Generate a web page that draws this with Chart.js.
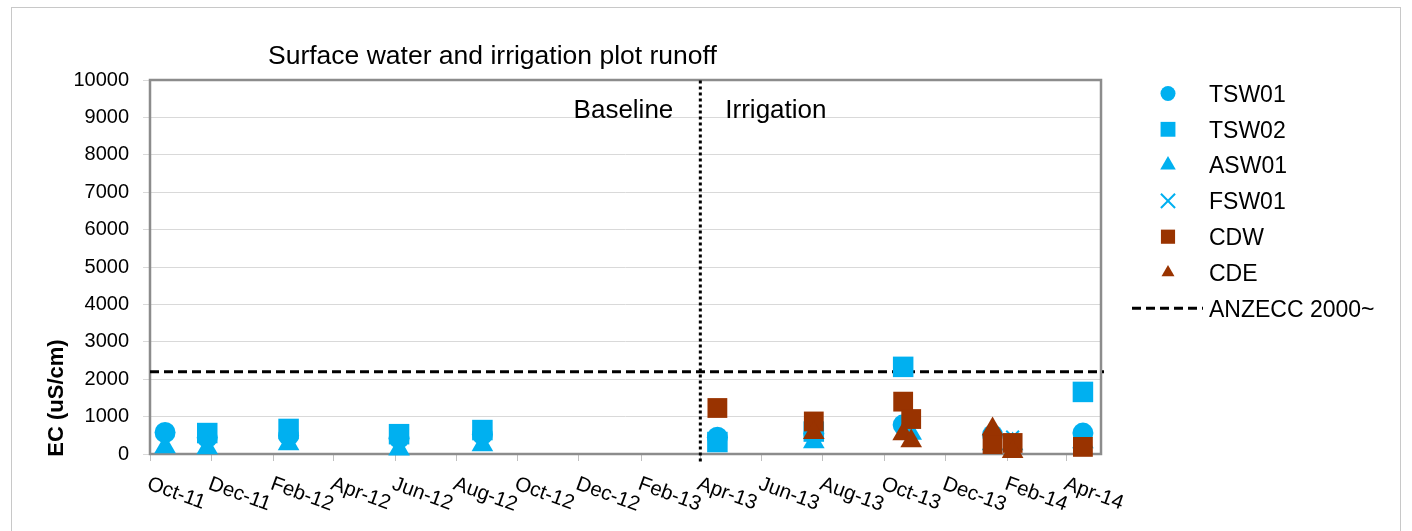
<!DOCTYPE html>
<html>
<head>
<meta charset="utf-8">
<title>Surface water and irrigation plot runoff</title>
<script src="https://cdn.jsdelivr.net/npm/chart.js@4.4.1/dist/chart.umd.min.js"></script>
<style>
  html, body { margin: 0; padding: 0; background: #fff; }
  canvas { display: block; }
</style>
</head>
<body>
<canvas id="ecChart" width="1412" height="531"></canvas>
<script>
// Date axis: one tick every two months
const xTickDates = ['2011-10-01', '2011-12-01', '2012-02-01', '2012-04-01', '2012-06-01', '2012-08-01',
    '2012-10-01', '2012-12-01', '2013-02-01', '2013-04-01', '2013-06-01', '2013-08-01',
    '2013-10-01', '2013-12-01', '2014-02-01', '2014-04-01'];
const xTickLabels = ['Oct-11', 'Dec-11', 'Feb-12', 'Apr-12', 'Jun-12', 'Aug-12',
    'Oct-12', 'Dec-12', 'Feb-13', 'Apr-13', 'Jun-13', 'Aug-13',
    'Oct-13', 'Dec-13', 'Feb-14', 'Apr-14'];
const xMinDate = '2011-10-01';
const xMaxDate = '2014-05-05';
const yMax = 10000;
const yStep = 1000;

// EC (uS/cm) per sampling date
const tsw01Dates = ['2011-10-16', '2011-11-27', '2012-02-16', '2012-06-05', '2012-08-27', '2013-04-18', '2013-07-23', '2013-10-20', '2014-01-17', '2014-04-17'];
const tsw01EC = [575, 440, 490, 420, 520, 450, 550, 780, 510, 560];
const tsw02Dates = ['2011-11-27', '2012-02-16', '2012-06-05', '2012-08-27', '2013-04-18', '2013-07-23', '2013-10-20', '2014-04-17'];
const tsw02EC = [560, 670, 530, 640, 320, 600, 2330, 1660];
const asw01Dates = ['2011-10-16', '2011-11-27', '2012-02-16', '2012-06-05', '2012-08-27', '2013-07-23', '2013-10-28', '2014-01-17', '2014-02-06', '2014-04-17'];
const asw01EC = [190, 160, 270, 130, 240, 320, 550, 270, 270, 320];
const fsw01Dates = ['2014-02-06'];
const fsw01EC = [450];
const cdwDates = ['2013-04-18', '2013-07-23', '2013-10-20', '2013-10-28', '2014-01-17', '2014-02-06', '2014-04-17'];
const cdwEC = [1230, 870, 1400, 935, 265, 295, 190];
const cdeDates = ['2013-07-23', '2013-10-20', '2013-10-28', '2014-01-17', '2014-02-06'];
const cdeEC = [570, 535, 350, 670, 60];

const anzeccLimit = 2200;
const irrigationStart = '2013-04-01';

const BLUE = '#00B0F0';
const BROWN = '#993300';
const FONT = '"Liberation Sans", Arial, sans-serif';

// day number from 'YYYY-MM-DD'
function day(s) {
    const p = s.split('-').map(Number);
    return Date.UTC(p[0], p[1] - 1, p[2]) / 86400000;
}

function toPoints(dates, values) {
    return dates.map((d, i) => ({ x: day(d), y: values[i] }));
}

function pointSet(label, dates, values, style, color, radius, order) {
    return {
        label: label,
        data: toPoints(dates, values),
        pointStyle: style,
        pointRadius: radius,
        pointHoverRadius: radius,
        backgroundColor: color,
        borderColor: color,
        borderWidth: style === 'crossRot' ? 2 : 0,
        showLine: false,
        clip: false,
        order: order,
    };
}

// same shapes as Chart.js, used for the legend
function drawMarker(ctx, style, x, y, r, color) {
    ctx.save();
    ctx.fillStyle = color;
    ctx.strokeStyle = color;
    ctx.beginPath();
    if (style === 'circle') {
        ctx.arc(x, y, r, 0, Math.PI * 2);
        ctx.fill();
    } else if (style === 'rect') {
        const s = r * Math.SQRT1_2;
        ctx.fillRect(x - s, y - s, 2 * s, 2 * s);
    } else if (style === 'triangle') {
        ctx.moveTo(x, y - r);
        ctx.lineTo(x + r * 0.866, y + r / 2);
        ctx.lineTo(x - r * 0.866, y + r / 2);
        ctx.closePath();
        ctx.fill();
    } else if (style === 'crossRot') {
        const d = r * Math.SQRT1_2;
        ctx.lineWidth = 2;
        ctx.moveTo(x - d, y - d); ctx.lineTo(x + d, y + d);
        ctx.moveTo(x + d, y - d); ctx.lineTo(x - d, y + d);
        ctx.stroke();
    }
    ctx.restore();
}

const legendRadius = { TSW01: 7.5, TSW02: 10.5, ASW01: 9, FSW01: 10, CDW: 10, CDE: 7.5 };

const decorPlugin = {
    id: 'decor',
    beforeDraw(chart) {
        const ctx = chart.ctx;
        ctx.save();
        ctx.fillStyle = '#fff';
        ctx.fillRect(0, 0, chart.width, chart.height);
        ctx.strokeStyle = '#c8c8c8';
        ctx.lineWidth = 1;
        ctx.strokeRect(11.5, 7.5, 1389, 540);
        ctx.restore();
    },
    beforeDatasetsDraw(chart) {
        const ctx = chart.ctx, a = chart.chartArea;
        ctx.save();
        ctx.strokeStyle = '#8c8c8c';
        ctx.lineWidth = 2.5;
        ctx.strokeRect(a.left, a.top, a.right - a.left, a.bottom - a.top);
        ctx.restore();
    },
    afterDraw(chart) {
        const ctx = chart.ctx, a = chart.chartArea, xs = chart.scales.x;
        ctx.save();
        ctx.fillStyle = '#000';

        // title
        ctx.font = '26.5px ' + FONT;
        ctx.textAlign = 'left';
        ctx.textBaseline = 'alphabetic';
        ctx.fillText('Surface water and irrigation plot runoff', 268, 64);

        // period labels either side of the divider
        const px = xs.getPixelForValue(day(irrigationStart));
        ctx.font = '26px ' + FONT;
        ctx.textAlign = 'right';
        ctx.fillText('Baseline', px - 27, 118);
        ctx.textAlign = 'left';
        ctx.fillText('Irrigation', px + 25, 118);

        // rotated date labels
        ctx.font = '20.5px ' + FONT;
        xTickDates.forEach((d, i) => {
            const tx = xs.getPixelForValue(day(d));
            ctx.save();
            ctx.translate(tx + 1, a.bottom + 21);
            ctx.rotate(20 * Math.PI / 180);
            ctx.fillText(xTickLabels[i], 0, 14.5);
            ctx.restore();
        });

        // y axis title
        ctx.save();
        ctx.translate(57, 398);
        ctx.rotate(-Math.PI / 2);
        ctx.font = 'bold 22px ' + FONT;
        ctx.textAlign = 'center';
        ctx.textBaseline = 'middle';
        ctx.fillText('EC (uS/cm)', 0, 0);
        ctx.restore();

        // legend
        ctx.font = '23px ' + FONT;
        ctx.textAlign = 'left';
        ctx.textBaseline = 'alphabetic';
        const rowY = i => 93.5 + i * 35.8;
        let row = 0;
        chart.data.datasets.forEach(ds => {
            if (!ds.showLine) {
                drawMarker(ctx, ds.pointStyle, 1168, rowY(row), legendRadius[ds.label], ds.backgroundColor);
                ctx.fillStyle = '#000';
                ctx.fillText(ds.label, 1209, rowY(row) + 8.3);
                row++;
            }
        });
        const limit = chart.data.datasets.find(ds => ds.label === 'ANZECC 2000~');
        ctx.strokeStyle = limit.borderColor;
        ctx.lineWidth = limit.borderWidth;
        ctx.setLineDash(limit.borderDash);
        ctx.beginPath();
        ctx.moveTo(1132, rowY(row));
        ctx.lineTo(1203, rowY(row));
        ctx.stroke();
        ctx.setLineDash([]);
        ctx.fillText(limit.label, 1209, rowY(row) + 8.3);
        ctx.restore();
    }
};

const ctx = document.getElementById('ecChart').getContext('2d');
new Chart(ctx, {
    type: 'scatter',
    data: {
        datasets: [
            pointSet('TSW01', tsw01Dates, tsw01EC, 'circle', BLUE, 10.5, 6),
            pointSet('TSW02', tsw02Dates, tsw02EC, 'rect', BLUE, 14.5, 5),
            pointSet('ASW01', asw01Dates, asw01EC, 'triangle', BLUE, 12.5, 4),
            pointSet('FSW01', fsw01Dates, fsw01EC, 'crossRot', BLUE, 9, 3),
            pointSet('CDW', cdwDates, cdwEC, 'rect', BROWN, 14, 2),
            pointSet('CDE', cdeDates, cdeEC, 'triangle', BROWN, 12.5, 1),
            {
                label: 'ANZECC 2000~',
                data: [{ x: day(xMinDate), y: anzeccLimit }, { x: day(xMaxDate) + 3, y: anzeccLimit }],
                showLine: true,
                borderColor: '#000',
                borderWidth: 3,
                borderDash: [9, 5],
                pointRadius: 0,
                clip: false,
                order: 8,
            },
            {
                label: 'divider',
                data: [{ x: day(irrigationStart), y: -200 }, { x: day(irrigationStart), y: yMax }],
                showLine: true,
                borderColor: '#000',
                borderWidth: 3,
                borderDash: [3, 3],
                pointRadius: 0,
                clip: false,
                order: 9,
            },
        ],
    },
    options: {
        responsive: false,
        animation: false,
        events: [],
        layout: { padding: { top: 80, right: 311, left: 0, bottom: 0 } },
        plugins: {
            legend: { display: false },
            tooltip: { enabled: false },
            title: { display: false },
        },
        scales: {
            x: {
                type: 'linear',
                min: day(xMinDate),
                max: day(xMaxDate),
                afterBuildTicks: axis => {
                    axis.ticks = xTickDates.map(d => ({ value: day(d) }));
                },
                afterFit: axis => { axis.height = 77; },
                ticks: { display: false },
                grid: { drawOnChartArea: false, drawTicks: true, tickLength: 7, color: '#bfbfbf' },
                border: { display: false },
            },
            y: {
                min: 0,
                max: yMax,
                afterFit: axis => { axis.width = 150; },
                ticks: {
                    stepSize: yStep,
                    padding: 14,
                    color: '#000',
                    font: { family: FONT, size: 20 },
                    callback: v => String(v),
                },
                grid: { color: '#d9d9d9', lineWidth: 1, tickLength: 7 },
                border: { display: false },
            },
        },
    },
    plugins: [decorPlugin],
});
</script>
</body>
</html>
